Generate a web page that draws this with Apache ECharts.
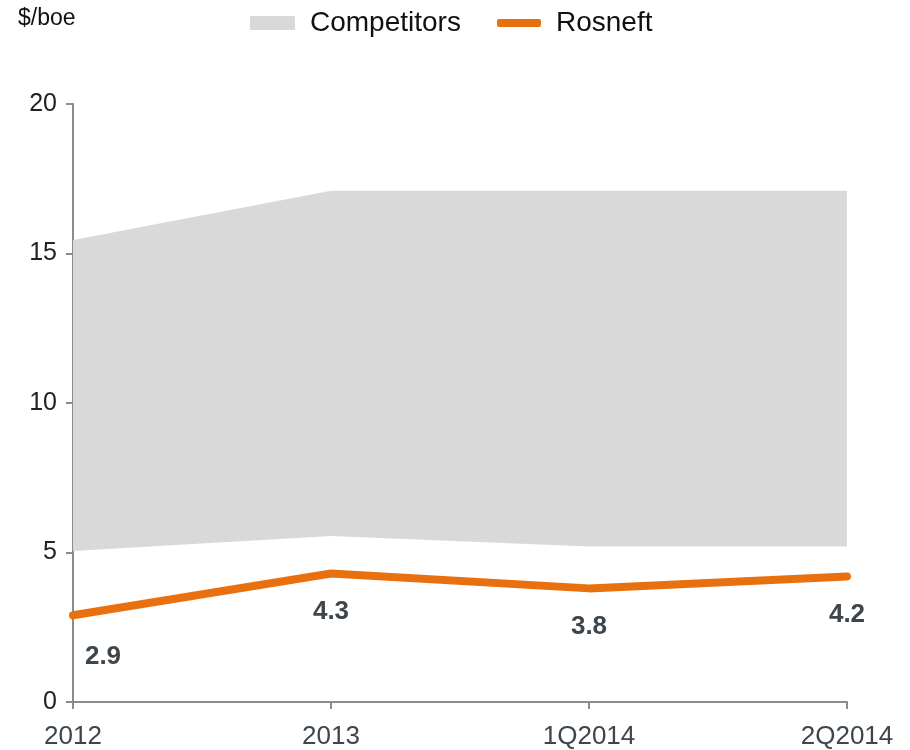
<!DOCTYPE html>
<html>
<head>
<meta charset="utf-8">
<script src="https://cdn.jsdelivr.net/npm/echarts@6/dist/echarts.min.js"></script>
<style>
    html, body { margin: 0; padding: 0; background: #fff; }
    #chart { width: 910px; height: 750px; }
</style>
</head>
<body>
<div id="chart"></div>
<script>
const categories = ["2012", "2013", "1Q2014", "2Q2014"];
const competitorsLow = [5.05, 5.55, 5.2, 5.2];
const competitorsHigh = [15.45, 17.1, 17.1, 17.1];
const rosneft = [2.9, 4.3, 3.8, 4.2];

// band drawn as a stack: invisible base + range on top
const competitorsRange = competitorsHigh.map((v, i) => +(v - competitorsLow[i]).toFixed(2));

const chart = echarts.init(document.getElementById("chart"));

const option = {
    animation: false,
    textStyle: { fontFamily: "Liberation Sans, Arial, sans-serif" },
    grid: { left: 73, right: 63, top: 104, bottom: 48 },
    graphic: [
        {
            type: "text",
            left: 18,
            top: 7,
            style: { text: "$/boe", fontSize: 23, fill: "#111", fontFamily: "Liberation Sans, Arial, sans-serif" },
        },
    ],
    legend: [
        {
            data: [{ name: "Competitors", icon: "rect" }],
            left: 245,
            top: 4,
            itemWidth: 45,
            itemHeight: 14,
            textStyle: { fontSize: 28, color: "#111", padding: [0, 0, 0, 10] },
        },
        {
            data: [{ name: "Rosneft", icon: "roundRect" }],
            left: 492,
            top: 4,
            itemWidth: 44,
            itemHeight: 8,
            textStyle: { fontSize: 28, color: "#111", padding: [0, 0, 0, 10] },
        },
    ],
    xAxis: {
        type: "category",
        data: categories,
        boundaryGap: false,
        axisLine: { lineStyle: { color: "#8c8c8c", width: 2 } },
        axisTick: { show: true, length: 7, lineStyle: { color: "#8c8c8c", width: 2 } },
        axisLabel: { fontSize: 26, color: "#3c464c", margin: 22 },
    },
    yAxis: {
        type: "value",
        min: 0,
        max: 20,
        interval: 5,
        splitLine: { show: false },
        axisLine: { show: true, lineStyle: { color: "#8c8c8c", width: 2 } },
        axisTick: { show: true, length: 7, lineStyle: { color: "#8c8c8c", width: 2 } },
        axisLabel: { fontSize: 25, color: "#222", margin: 16 },
    },
    series: [
        {
            name: "base",
            type: "line",
            stack: "band",
            data: competitorsLow,
            symbol: "none",
            lineStyle: { width: 0 },
            areaStyle: { color: "transparent", opacity: 0 },
            silent: true,
        },
        {
            name: "Competitors",
            type: "line",
            stack: "band",
            data: competitorsRange,
            symbol: "none",
            lineStyle: { width: 0 },
            itemStyle: { color: "#d9d9d9" },
            areaStyle: { color: "#d9d9d9", opacity: 1 },
        },
        {
            name: "Rosneft",
            type: "line",
            data: rosneft.map((v, i) => ({
                value: v,
                label: i === 0 ? { offset: [30, 4] } : {},
            })),
            symbol: "circle",
            symbolSize: 0,
            showSymbol: true,
            z: 5,
            lineStyle: { color: "#e8700e", width: 8, cap: "round", join: "round" },
            itemStyle: { color: "#e8700e" },
            label: {
                show: true,
                position: "bottom",
                distance: 25,
                fontSize: 26,
                fontWeight: "bold",
                color: "#3d464d",
                formatter: (p) => p.value.toFixed(1),
            },
        },
    ],
};

chart.setOption(option);
</script>
</body>
</html>
